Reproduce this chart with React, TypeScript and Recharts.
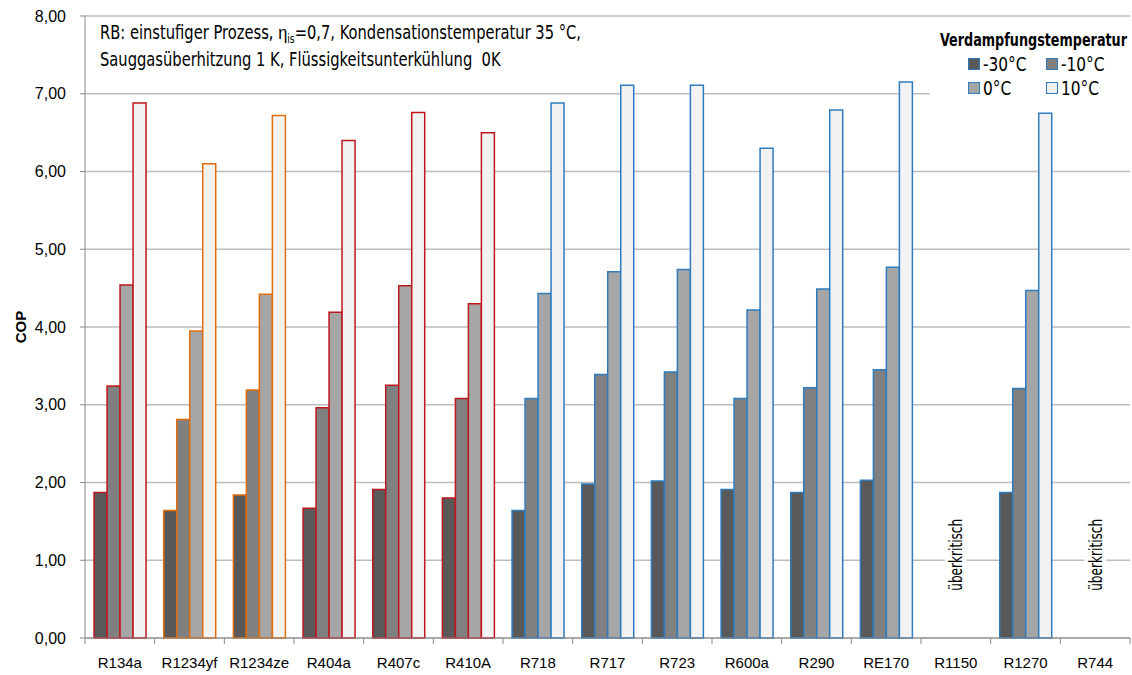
import React from "react";
import {
  BarChart,
  Bar,
  Cell,
  XAxis,
  YAxis,
  CartesianGrid,
  ReferenceDot,
} from "recharts";

// Kältemittel
const categories = [
  "R134a", "R1234yf", "R1234ze", "R404a", "R407c", "R410A", "R718", "R717",
  "R723", "R600a", "R290", "RE170", "R1150", "R1270", "R744",
];
// COP je Verdampfungstemperatur (null = überkritisch)
const copMinus30 = [1.87, 1.64, 1.84, 1.67, 1.91, 1.8, 1.64, 1.98, 2.02, 1.91, 1.87, 2.03, null, 1.87, null];
const copMinus10 = [3.24, 2.81, 3.19, 2.96, 3.25, 3.08, 3.08, 3.39, 3.42, 3.08, 3.22, 3.45, null, 3.21, null];
const cop0 = [4.54, 3.95, 4.42, 4.19, 4.53, 4.3, 4.43, 4.71, 4.74, 4.22, 4.49, 4.77, null, 4.47, null];
const cop10 = [6.88, 6.1, 6.72, 6.4, 6.76, 6.5, 6.88, 7.11, 7.11, 6.3, 6.79, 7.15, null, 6.75, null];
// Randfarbe nach Stoffgruppe
const edgeGroup = ["hfc", "hfo", "hfo", "hfc", "hfc", "hfc", "nat", "nat", "nat", "nat", "nat", "nat", "nat", "nat", "nat"];
const supercritical = ["R1150", "R744"];
const yTicks = [0, 1, 2, 3, 4, 5, 6, 7, 8];

const edgeColors: Record<string, string> = { hfc: "#c0161e", hfo: "#e36c0a", nat: "#2e7cc0" };
const series = [
  { key: "m30", name: "-30°C", fill: "#595959" },
  { key: "m10", name: "-10°C", fill: "#808080" },
  { key: "p0", name: "0°C", fill: "#a6a6a6" },
  { key: "p10", name: "10°C", fill: "#f2f2f2" },
];

const data = categories.map((c, i) => ({
  name: c,
  m30: copMinus30[i],
  m10: copMinus10[i],
  p0: cop0[i],
  p10: cop10[i],
}));

const NARROW = '"Liberation Sans Narrow", "DejaVu Sans Condensed", "Roboto Condensed", sans-serif';
const SANS = '"Liberation Sans", Arial, sans-serif';

const XTick = (props: any) => {
  const { x, y, payload, index, width } = props;
  const step = (width || 1045) / categories.length;
  return (
    <g>
      {index === 0 && (
        <line x1={x - step / 2} x2={x - step / 2} y1={y} y2={y + 6} stroke="#898989" />
      )}
      <line x1={x + step / 2} x2={x + step / 2} y1={y} y2={y + 6} stroke="#898989" />
      <text x={x} y={y + 30} textAnchor="middle" fontFamily={SANS} fontSize={15} fill="#000">
        {payload.value}
      </text>
    </g>
  );
};

const CopLabel = (props: any) => {
  const vb = props.viewBox || {};
  const cx = 20;
  const cy = (vb.y || 16) + (vb.height || 622) / 2;
  return (
    <text
      x={cx}
      y={cy}
      transform={`rotate(-90, ${cx}, ${cy})`}
      textAnchor="middle"
      dominantBaseline="central"
      fontFamily={SANS}
      fontWeight="bold"
      fontSize={15}
      fill="#000"
    >
      COP
    </text>
  );
};

const SuperLabel = (props: any) => {
  const vb = props.viewBox || {};
  const cx = vb.x + (vb.width || 0) / 2;
  const cy = vb.y + (vb.height || 0) / 2;
  return (
    <g>
      <rect x={cx - 11} y={cy - 40} width={22} height={80} fill="#fff" />
      <text
        x={cx}
        y={cy}
        transform={`rotate(-90, ${cx}, ${cy})`}
        textAnchor="middle"
        dominantBaseline="central"
        fontFamily={NARROW}
        fontSize={18}
        textLength={72}
        lengthAdjust="spacingAndGlyphs"
        fill="#000"
      >
        überkritisch
      </text>
    </g>
  );
};

const LegendBox = () => (
  <div
    style={{
      position: "absolute",
      left: 930,
      top: 28,
      width: 200,
      background: "#fff",
      fontFamily: NARROW,
      fontSize: 19,
      color: "#000",
      lineHeight: "24px",
      paddingBottom: 2,
    }}
  >
    <svg width={200} height={24} style={{ display: "block" }}>
      <text
        x={10}
        y={18}
        fontFamily={NARROW}
        fontWeight="bold"
        fontSize={17}
        textLength={187}
        lengthAdjust="spacingAndGlyphs"
        fill="#000"
      >
        Verdampfungstemperatur
      </text>
    </svg>
    <div
      style={{
        display: "grid",
        gridTemplateColumns: "78px 80px",
        paddingLeft: 38,
      }}
    >
      {series.map((s) => (
        <div key={s.key} style={{ display: "flex", alignItems: "center", whiteSpace: "nowrap" }}>
          <span
            style={{
              display: "inline-block",
              width: 10,
              height: 10,
              background: s.fill,
              border: "1.5px solid #2e7cc0",
              marginRight: 3,
            }}
          />
          <span style={{ transform: "scaleX(0.9)", transformOrigin: "left center", display: "inline-block" }}>
            {s.name}
          </span>
        </div>
      ))}
    </div>
  </div>
);

export default function App() {
  return (
    <div style={{ position: "absolute", left: 0, top: 0, width: 1132, height: 675, background: "#fff" }}>
      <BarChart
        width={1132}
        height={675}
        data={data}
        margin={{ top: 16, right: 2, left: 0, bottom: 0 }}
        barCategoryGap="13%"
        barGap={0}
      >
        <CartesianGrid vertical={false} stroke="#bdbdbd" strokeWidth={1.5} />
        <XAxis
          dataKey="name"
          height={37}
          interval={0}
          tickLine={false}
          tickSize={0}
          tickMargin={0}
          stroke="#898989"
          tick={<XTick />}
        />
        <YAxis
          width={85}
          domain={[0, 8]}
          ticks={yTicks}
          interval={0}
          stroke="#898989"
          tickSize={5}
          tickMargin={14}
          tickFormatter={(v: number) => v.toFixed(2).replace(".", ",")}
          tick={{ fill: "#000", fontSize: 16, fontFamily: SANS }}
          label={<CopLabel />}
        />
        {series.map((s) => (
          <Bar
            key={s.key}
            dataKey={s.key}
            name={s.name}
            fill={s.fill}
            strokeWidth={1.5}
            isAnimationActive={false}
          >
            {categories.map((c, i) => (
              <Cell key={c} fill={s.fill} stroke={edgeColors[edgeGroup[i]]} />
            ))}
          </Bar>
        ))}
        {supercritical.map((c) => (
          <ReferenceDot key={c} x={c} y={1.07} r={0} stroke="none" fill="none" label={<SuperLabel />} />
        ))}
      </BarChart>
      <div
        style={{
          position: "absolute",
          left: 100,
          top: 19,
          fontFamily: NARROW,
          fontSize: 19,
          lineHeight: "26px",
          color: "#000",
          background: "#fff",
          whiteSpace: "nowrap",
          transform: "scaleX(0.86)",
          transformOrigin: "left top",
        }}
      >
        <div>
          RB: einstufiger Prozess, <span style={{ fontFamily: SANS }}>η</span>
          <span style={{ fontSize: 12, position: "relative", top: 4, lineHeight: 0 }}>is</span>=0,7,
          Kondensationstemperatur 35 °C,
        </div>
        <div>Sauggasüberhitzung 1 K, Flüssigkeitsunterkühlung&nbsp;&nbsp;0K</div>
      </div>
      <LegendBox />
    </div>
  );
}
